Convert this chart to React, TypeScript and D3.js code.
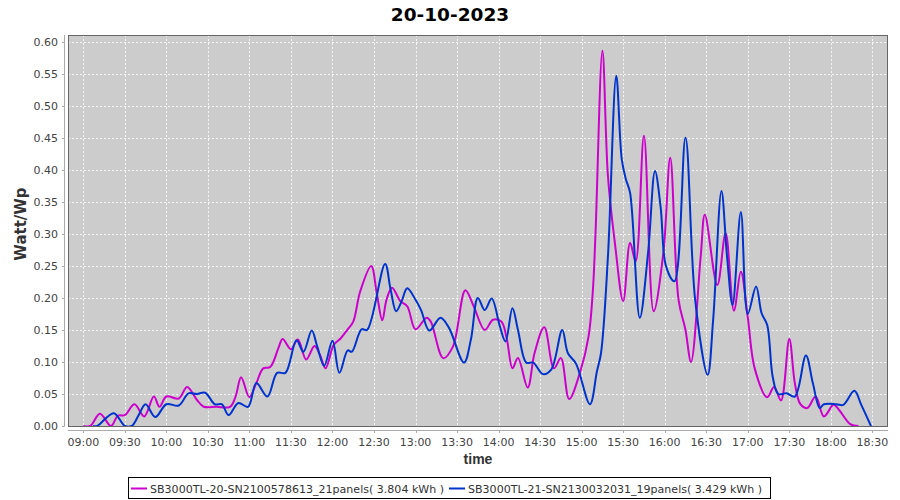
import React from "react";
import * as d3 from "d3";

const title = "20-10-2023";
const yLabel = "Watt/Wp";
const xLabel = "time";

const xTickLabels = ["09:00","09:30","10:00","10:30","11:00","11:30","12:00","12:30","13:00","13:30","14:00","14:30","15:00","15:30","16:00","16:30","17:00","17:30","18:00","18:30"];
const yTickValues = [0,0.05,0.1,0.15,0.2,0.25,0.3,0.35,0.4,0.45,0.5,0.55,0.6];

const series1Name = "SB3000TL-20-SN2100578613_21panels( 3.804 kWh )";
const series1Times = ["09:00","09:05","09:12","09:20","09:25","09:30","09:37","09:44","09:51","09:55","10:00","10:09","10:15","10:22","10:27","10:36","10:46","10:50","10:54","11:00","11:05","11:10","11:15","11:21","11:24","11:30","11:35","11:41","11:47","11:51","11:55","12:01","12:06","12:11","12:15","12:20","12:28","12:32","12:36","12:39","12:43","12:49","12:54","13:00","13:08","13:11","13:20","13:27","13:36","13:42","13:50","13:56","14:02","14:06","14:10","14:14","14:21","14:26","14:33","14:40","14:45","14:51","14:59","15:05","15:08","15:10","15:15","15:19","15:24","15:30","15:35","15:39","15:45","15:52","15:59","16:04","16:10","16:15","16:19","16:26","16:29","16:38","16:44","16:50","16:55","17:00","17:05","17:14","17:19","17:24","17:30","17:34","17:38","17:43","17:49","17:55","18:02","18:06","18:14","18:20"];
const series1Values = [0,0,0.019,0,0.016,0.017,0.034,0.015,0.046,0.030,0.046,0.043,0.061,0.041,0.030,0.030,0.030,0.046,0.076,0.045,0.067,0.090,0.092,0.122,0.136,0.120,0.135,0.104,0.125,0.111,0.090,0.127,0.137,0.151,0.163,0.210,0.250,0.207,0.165,0.197,0.216,0.195,0.187,0.151,0.169,0.163,0.106,0.124,0.212,0.187,0.150,0.166,0.163,0.135,0.090,0.106,0.060,0.114,0.154,0.090,0.106,0.042,0.085,0.140,0.208,0.300,0.586,0.390,0.286,0.195,0.286,0.257,0.453,0.179,0.270,0.419,0.197,0.150,0.100,0.265,0.330,0.220,0.301,0.180,0.241,0.170,0.090,0.045,0.061,0.040,0.136,0.067,0.034,0.028,0.046,0.015,0.033,0.025,0.003,0];

const series2Name = "SB3000TL-21-SN2130032031_19panels( 3.429 kWh )";
const series2Times = ["09:07","09:10","09:22","09:30","09:35","09:40","09:45","09:52","10:00","10:09","10:16","10:22","10:28","10:35","10:40","10:45","10:52","10:59","11:05","11:13","11:20","11:26","11:34","11:39","11:45","11:49","11:54","12:00","12:05","12:11","12:14","12:21","12:25","12:38","12:42","12:46","12:50","12:54","13:00","13:04","13:10","13:18","13:24","13:35","13:40","13:45","13:50","13:55","14:01","14:05","14:10","14:14","14:20","14:25","14:32","14:38","14:46","14:50","14:56","15:06","15:11","15:14","15:19","15:25","15:29","15:32","15:35","15:42","15:48","15:53","15:57","16:01","16:07","16:15","16:22","16:31","16:35","16:41","16:45","16:49","16:55","17:00","17:06","17:10","17:14","17:18","17:22","17:28","17:34","17:42","17:47","17:52","17:55","18:04","18:09","18:17","18:22","18:29"];
const series2Values = [0,0,0.020,0,0,0.017,0.034,0.014,0.034,0.032,0.051,0.050,0.052,0.034,0.034,0.017,0.036,0.030,0.067,0.046,0.083,0.083,0.134,0.116,0.149,0.124,0.094,0.133,0.083,0.118,0.116,0.151,0.150,0.253,0.213,0.179,0.195,0.215,0.197,0.181,0.149,0.169,0.154,0.099,0.135,0.200,0.181,0.199,0.155,0.132,0.184,0.150,0.099,0.099,0.081,0.088,0.150,0.114,0.097,0.034,0.085,0.114,0.265,0.547,0.416,0.385,0.364,0.169,0.271,0.398,0.343,0.249,0.226,0.450,0.197,0.080,0.166,0.367,0.265,0.189,0.334,0.175,0.218,0.176,0.158,0.077,0.050,0.051,0.046,0.110,0.067,0.028,0.034,0.034,0.033,0.055,0.033,0];

const toMin = (s: string) => {
  const [h, m] = s.split(":").map(Number);
  return (h - 9) * 60 + m;
};

const FONT = "'DejaVu Sans', sans-serif";

export default function App() {
  const left = 68, right = 888, top = 35, bottom = 426.5;
  const x = d3.scaleLinear().domain([-11.05, 581.3]).range([left, right]);
  const y = d3.scaleLinear().domain([0, 0.6105]).range([426, top]);

  const line = d3
    .line<[number, number]>()
    .x((d) => x(d[0]))
    .y((d) => y(d[1]))
    .curve(d3.curveCatmullRom.alpha(0.5));

  const s1 = series1Times.map((t, i) => [toMin(t), series1Values[i]] as [number, number]);
  const s2 = series2Times.map((t, i) => [toMin(t), series2Values[i]] as [number, number]);

  const c1 = "#cc00cc";
  const c2 = "#0033cc";

  return (
    <svg width={900} height={500} style={{ position: "absolute", left: 0, top: 0, background: "#fff" }}>
      <defs>
        <clipPath id="plotclip">
          <rect x={left} y={top} width={right - left} height={bottom - top} />
        </clipPath>
      </defs>
      <text x={450} y={21} textAnchor="middle" fontFamily={FONT} fontWeight="bold" fontSize={18.5} fill="#000">
        {title}
      </text>
      <rect x={left} y={top} width={right - left} height={bottom - top} fill="#cccccc" />
      {yTickValues.map((v) => (
        <line key={"gy" + v} x1={left} x2={right} y1={Math.round(y(v)) + 0.5} y2={Math.round(y(v)) + 0.5} stroke="#ffffff" strokeWidth={1} strokeDasharray="2,2" opacity={0.8} />
      ))}
      {xTickLabels.map((t) => (
        <line key={"gx" + t} x1={Math.round(x(toMin(t))) + 0.5} x2={Math.round(x(toMin(t))) + 0.5} y1={top} y2={bottom} stroke="#ffffff" strokeWidth={1} strokeDasharray="2,2" opacity={0.8} />
      ))}
      <g clipPath="url(#plotclip)">
        <path d={line(s1) || ""} fill="none" stroke={c1} strokeWidth={2} />
        <path d={line(s2) || ""} fill="none" stroke={c2} strokeWidth={2} />
      </g>
      <rect x={left + 0.5} y={top + 0.5} width={right - left - 1} height={bottom - top - 0.5} fill="none" stroke="#666" strokeWidth={1} />
      {/* y axis */}
      <line x1={64.5} x2={64.5} y1={top} y2={bottom} stroke="#aaa" />
      {yTickValues.map((v) => (
        <g key={"ty" + v}>
          <line x1={62} x2={64.5} y1={Math.round(y(v)) + 0.5} y2={Math.round(y(v)) + 0.5} stroke="#aaa" />
          <text x={58} y={y(v) + 4} textAnchor="end" fontFamily={FONT} fontSize={11} fill="#444">
            {d3.format(".2f")(v)}
          </text>
        </g>
      ))}
      {/* x axis */}
      <line x1={left} x2={right} y1={430.5} y2={430.5} stroke="#aaa" />
      {xTickLabels.map((t) => (
        <g key={"tx" + t}>
          <line x1={Math.round(x(toMin(t))) + 0.5} x2={Math.round(x(toMin(t))) + 0.5} y1={430.5} y2={433} stroke="#aaa" />
          <text x={x(toMin(t))} y={446} textAnchor="middle" fontFamily={FONT} fontSize={11} fill="#444">
            {t}
          </text>
        </g>
      ))}
      <text x={478} y={464} textAnchor="middle" fontFamily="'Liberation Sans', sans-serif" fontWeight="bold" fontSize={14} fill="#333">
        {xLabel}
      </text>
      <text transform="translate(26,224) rotate(-90)" textAnchor="middle" fontFamily={FONT} fontWeight="bold" fontSize={15} fill="#333">
        {yLabel}
      </text>
      {/* legend */}
      <rect x={128.5} y={477.5} width={642} height={21} fill="#fff" stroke="#000" />
      <line x1={131} x2={147} y1={488.5} y2={488.5} stroke={c1} strokeWidth={2} />
      <text x={150} y={492.5} fontFamily={FONT} fontSize={11.05} fill="#333">{series1Name}</text>
      <line x1={449} x2={465} y1={488.5} y2={488.5} stroke={c2} strokeWidth={2} />
      <text x={468} y={492.5} fontFamily={FONT} fontSize={11.05} fill="#333">{series2Name}</text>
    </svg>
  );
}
